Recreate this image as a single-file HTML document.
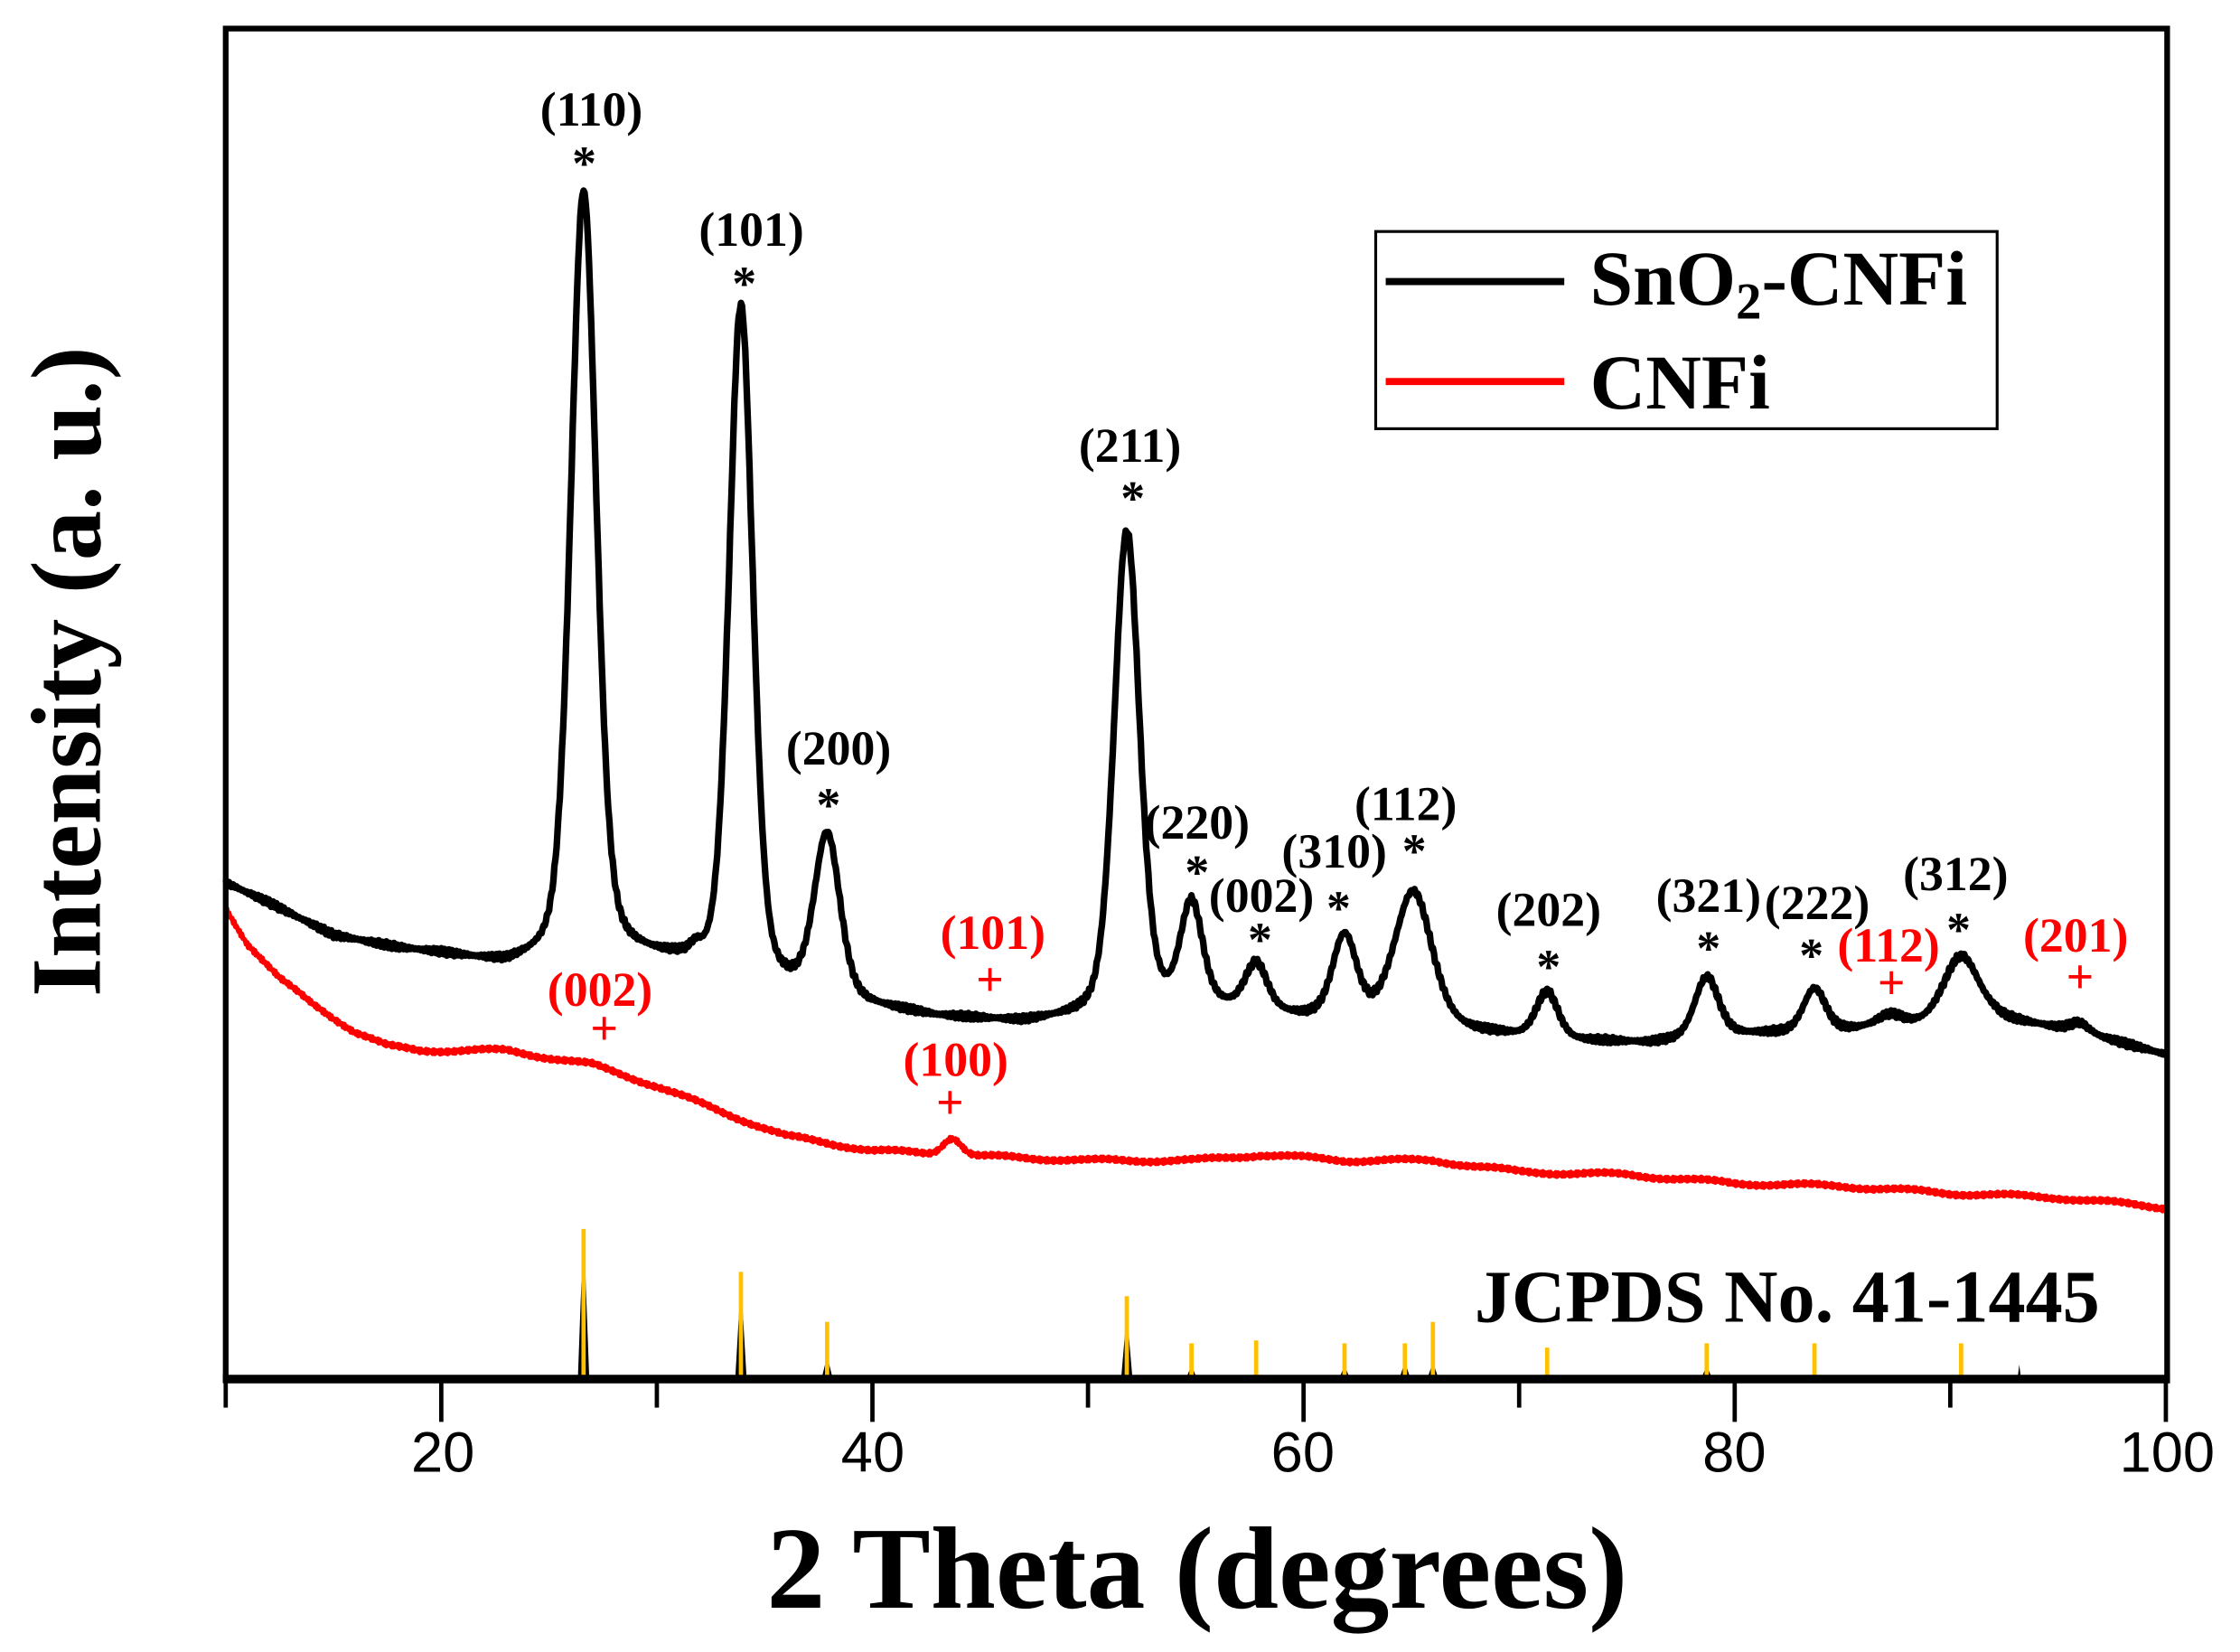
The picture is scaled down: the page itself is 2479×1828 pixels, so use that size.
<!DOCTYPE html>
<html><head><meta charset="utf-8"><style>
html,body{margin:0;padding:0;background:#fff;width:2479px;height:1828px;overflow:hidden}
svg{display:block}
.lb{font-family:"Liberation Serif",serif;font-weight:bold;font-size:34px;text-anchor:middle}
.r{fill:#f00}
</style></head><body>
<svg id="s" width="2479" height="1828" viewBox="0 0 1568 1156" preserveAspectRatio="none" xmlns="http://www.w3.org/2000/svg">
<rect x="0" y="0" width="1568" height="1156" fill="#fff"/>
<g id="sticks"></g>
<path id="red" fill="none" stroke="#f00" stroke-width="3.4" stroke-linejoin="round"/>
<path id="blk" fill="none" stroke="#000" stroke-width="4.6" stroke-linejoin="round"/>
<rect x="158" y="20" width="1359" height="945" fill="none" stroke="#000" stroke-width="4"/>
<line x1="156" y1="965" x2="1519" y2="965" stroke="#000" stroke-width="6"/>
<g id="ticks" stroke="#000" stroke-width="3"></g>
<g font-family="Liberation Sans,sans-serif" font-size="40" text-anchor="middle">
<text x="310" y="1030">20</text><text x="611" y="1030">40</text><text x="912" y="1030">60</text><text x="1214" y="1030">80</text><text x="1517" y="1030">100</text>
</g>
<text x="838" y="1125" font-family="Liberation Serif,serif" font-weight="bold" font-size="82" text-anchor="middle">2 Theta (degrees)</text>
<text transform="translate(70,470) rotate(-90)" font-family="Liberation Serif,serif" font-weight="bold" font-size="70" text-anchor="middle">Intensity (a. u.)</text>
<rect x="963" y="162" width="435" height="138" fill="#fff" stroke="#000" stroke-width="2"/>
<line x1="970" y1="197" x2="1095" y2="197" stroke="#000" stroke-width="5"/>
<line x1="970" y1="267" x2="1095" y2="267" stroke="#f00" stroke-width="5"/>
<text x="1113" y="213" font-family="Liberation Serif,serif" font-weight="bold" font-size="54">SnO<tspan font-size="36" dy="10">2</tspan><tspan dy="-10">-CNFi</tspan></text>
<text x="1113" y="286" font-family="Liberation Serif,serif" font-weight="bold" font-size="54">CNFi</text>
<text x="1251" y="925" font-family="Liberation Serif,serif" font-weight="bold" font-size="52" text-anchor="middle">JCPDS No. 41-1445</text>
<g class="lb">
<text x="414" y="88">(110)</text><text x="409" y="126">*</text>
<text x="526" y="172">(101)</text><text x="521" y="210">*</text>
<text x="587" y="535">(200)</text><text x="580" y="575">*</text>
<text x="791" y="323">(211)</text><text x="793" y="360">*</text>
<text x="838" y="587">(220)</text><text x="838" y="622">*</text>
<text x="883" y="638">(002)</text><text x="882" y="669">*</text>
<text x="934" y="607">(310)</text><text x="937" y="647">*</text>
<text x="984" y="574">(112)</text><text x="990" y="607">*</text>
<text x="1084" y="648">(202)</text><text x="1084" y="688">*</text>
<text x="1196" y="638">(321)</text><text x="1196" y="675">*</text>
<text x="1272" y="643">(222)</text><text x="1268" y="680">*</text>
<text x="1369" y="623">(312)</text><text x="1371" y="662">*</text>
<g class="r">
<text x="695" y="664">(101)</text><text x="693" y="697">+</text>
<text x="420" y="704">(002)</text><text x="423" y="731">+</text>
<text x="669" y="753">(100)</text><text x="665" y="783">+</text>
<text x="1322" y="673">(112)</text><text x="1324" y="699">+</text>
<text x="1453" y="666">(201)</text><text x="1456" y="695">+</text>
</g></g>
</svg>
<script>
(function(){
var NS="http://www.w3.org/2000/svg";
function X(d){return 158+(d-10)*15.09;}
function interp(pts,x){for(var i=0;i<pts.length-1;i++){if(x<=pts[i+1][0]){var a=pts[i],b=pts[i+1];return a[1]+(b[1]-a[1])*(x-a[0])/(b[0]-a[0]);}}return pts[pts.length-1][1];}
var bb=[[10,618],[12,632],[15,655],[18,664],[20,668],[23,676],[25,672],[28,668],[31,675],[35,690],[40,705],[43,712],[47,716],[50,712],[53,705],[56,705],[60,712],[64,712],[68,722],[72,728],[76,730],[80,724],[84,722],[88,718],[92,712],[96,722],[100,738]];
var pk=[[26.6,535,0.7],[33.9,470,0.65],[37.9,112,0.7],[51.8,335,0.7],[54.8,70,0.6],[57.8,32,0.6],[61.9,56,0.65],[65.1,90,1.0],[71.3,32,0.6],[78.7,42,0.65],[83.7,30,0.6],[87.2,8,0.7],[90.5,45,0.95],[96,6,0.5],[31.8,6,0.3]];
function pv(x,c,w){var t=(x-c)/w;return 0.7*Math.exp(-0.693*t*t)+0.3/(1+t*t);}
var d="",r="",x,y,k;
for(x=10;x<=100.001;x+=0.05){
 y=interp(bb,x);for(k=0;k<pk.length;k++)y-=pk[k][1]*pv(x,pk[k][0],pk[k][2]);
 y+=Math.sin(x*37)*1.4+Math.sin(x*91)*1.0;
 d+=(d?"L":"M")+X(x).toFixed(1)+" "+y.toFixed(1);
}
var rb=[[10,635],[11,660],[12.5,685],[14,702],[16,722],[17.5,732],[19,735],[23,735],[25,740],[27,745],[30,760],[33,778],[36,795],[40,805],[45,809],[50,812],[55,812],[58,808],[62,812],[66,812],[70,820],[75,822],[80,828],[85,830],[90,835],[95,838],[100,845]];
for(x=10;x<=100.001;x+=0.05){
 y=interp(rb,x)-12*Math.exp(-Math.pow((x-43.7)/0.6,2))+Math.sin(x*53)*1.5+Math.sin(x*127)*1.1;
 r+=(r?"L":"M")+X(x).toFixed(1)+" "+y.toFixed(1);
}
document.getElementById("blk").setAttribute("d",d);
document.getElementById("red").setAttribute("d",r);
function el(parent,tag,attrs){var e=document.createElementNS(NS,tag);for(var a in attrs)e.setAttribute(a,attrs[a]);parent.appendChild(e);return e;}
var st=[[26.6,860,875],[33.9,890,905],[37.9,925,945],[51.8,907,922],[54.8,940,950],[57.8,938,955],[61.9,940,950],[64.7,940,948],[66,925,948],[71.3,943,955],[78.7,940,950],[83.7,940,958],[90.5,940,955],[93.2,962,955]];
var g=document.getElementById("sticks");
for(var i=0;i<st.length;i++){var px=X(st[i][0]);
 el(g,"path",{d:"M"+(px-4)+" 965 L"+(px-1)+" "+(st[i][2]+8)+" L"+px+" "+st[i][2]+" L"+(px+1)+" "+(st[i][2]+8)+" L"+(px+4)+" 965Z",fill:"#000"});
 if(i<13)el(g,"line",{x1:px,y1:965,x2:px,y2:st[i][1],stroke:"#FFC000","stroke-width":3});}
var t=document.getElementById("ticks");
for(var v=10;v<=100;v+=10){var p=X(v);var L=(v%20==0)?30:20;el(t,"line",{x1:p,y1:965,x2:p,y2:965+L});}
})();
</script>
</body></html>
